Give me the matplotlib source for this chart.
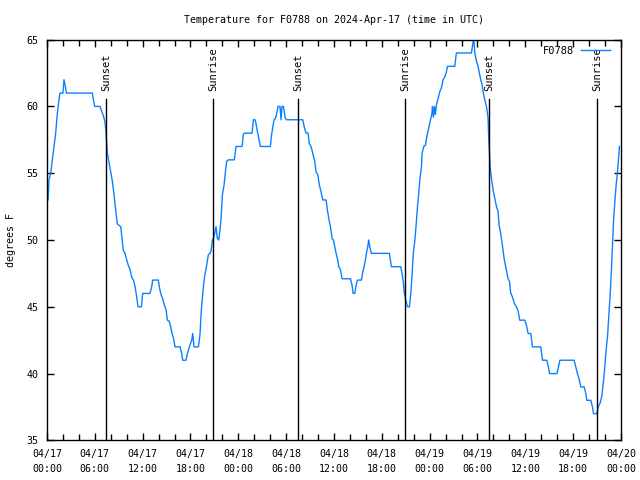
import matplotlib
matplotlib.use("Agg")
from matplotlib import pyplot as plt
import matplotlib.dates as mdates
import pandas as pd

# horas desde 2024-04-17 00:00 UTC y temperatura (F)
horas = [0.13, 0.25, 0.46, 0.67, 0.88, 1.09, 1.30, 1.46, 1.63, 2.0, 2.13, 2.30, 2.43, 5.69, 5.82, 5.98,
         6.65, 6.82, 7.07, 7.28, 7.41, 7.57, 7.78, 7.99, 8.2, 8.41, 8.62, 8.83, 9.25, 9.41, 9.58, 9.79,
         10.0, 10.2, 10.42, 10.63, 10.84, 11.05, 11.26, 11.42, 11.84, 12.0, 12.17, 12.92, 13.13, 13.26,
         13.97, 14.09, 14.26, 14.52, 14.68, 14.93, 15.1, 15.35, 15.52, 15.68, 15.85, 16.06, 16.69, 16.9,
         17.02, 17.44, 17.61, 17.86, 18.15, 18.28, 18.44, 18.99, 19.2, 19.32, 19.45, 19.62, 19.78, 20.03,
         20.24, 20.45, 20.58, 20.74, 20.87, 21.08, 21.2, 21.37, 21.54, 21.71, 21.83, 22.0, 22.21, 22.38,
         22.54, 22.75, 23.5, 23.71, 24.47, 24.63, 24.76, 25.72, 25.89, 26.1, 26.22, 26.43, 26.64, 26.77,
         28.02, 28.15, 28.31, 28.48, 28.65, 28.82, 28.98, 29.23, 29.36, 29.48, 29.65, 29.78, 29.9, 30.07,
         32.08, 32.29, 32.5, 32.75, 32.91, 33.12, 33.33, 33.58, 33.75, 33.96, 34.17, 34.38, 34.59, 35.0,
         35.21, 35.38, 35.55, 35.76, 35.93, 36.1, 36.26, 36.47, 36.6, 36.8, 37.01, 38.06, 38.27, 38.39,
         38.6, 38.77, 38.94, 39.44, 39.61, 39.77, 39.94, 40.07, 40.23, 40.36, 40.48, 40.69, 42.95, 43.08,
         43.2, 44.37, 44.54, 44.71, 44.79, 44.96, 45.21, 45.46, 45.63, 45.8, 45.96, 46.13, 46.3, 46.47,
         46.63, 46.76, 46.97, 47.05, 47.26, 47.47, 47.6, 47.77, 47.93, 48.1, 48.27, 48.35, 48.47, 48.6,
         48.72, 48.85, 49.06, 49.27, 49.48, 49.68, 49.89, 50.1, 50.23, 51.15, 51.35, 53.24, 53.36, 53.49,
         53.57, 53.66, 53.87, 54.07, 54.2, 54.41, 54.58, 54.7, 54.91, 55.12, 55.33, 55.41, 55.5, 55.58,
         55.75, 55.87, 56.0, 56.17, 56.38, 56.59, 56.71, 56.88, 57.0, 57.17, 57.34, 57.51, 57.67, 57.84,
         58.01, 58.17, 58.34, 58.67, 58.88, 59.09, 59.3, 59.93, 60.14, 60.35, 60.69, 60.89, 61.94, 62.15,
         62.69, 62.9, 63.03, 63.95, 64.16, 64.33, 66.12, 66.33, 66.54, 66.75, 66.96, 67.38, 67.59, 67.71,
         68.22, 68.42, 68.55, 68.97, 69.13, 69.38, 69.59, 69.8, 69.97, 70.14, 70.31, 70.47, 70.64, 70.81,
         70.93, 71.06, 71.23, 71.39, 71.56, 71.69, 71.81, 71.95]
temps = [53.0, 54.5, 55.0, 56.0, 57.0, 58.0, 59.5, 60.3, 61.0, 61.0, 62.0, 61.5, 61.0, 61.0, 60.5, 60.0,
         60.0, 59.7, 59.3, 58.8, 58.0, 56.5, 55.8, 55.1, 54.4, 53.4, 52.2, 51.2, 51.0, 50.1, 49.2, 49.0,
         48.5, 48.1, 47.8, 47.2, 47.0, 46.5, 45.7, 45.0, 45.0, 46.0, 46.0, 46.0, 46.5, 47.0,
         47.0, 46.5, 46.0, 45.6, 45.2, 44.8, 44.0, 43.9, 43.5, 43.0, 42.7, 42.0, 42.0, 41.5,
         41.0, 41.0, 41.5, 42.0, 42.5, 43.0, 42.0, 42.0, 43.0, 44.4, 45.4, 46.5, 47.3, 48.1,
         48.9, 49.0, 49.2, 50.0, 50.1, 50.6, 51.0, 50.1, 50.0, 50.8, 51.6, 53.4, 54.1, 55.1,
         55.9, 56.0, 56.0, 57.0, 57.0, 57.9, 58.0, 58.0, 59.0, 59.0, 58.7, 58.0, 57.4, 57.0,
         57.0, 57.8, 58.4, 59.0, 59.1, 59.5, 60.0, 60.0, 59.0, 60.0, 60.0, 59.5, 59.1, 59.0,
         59.0, 58.4, 58.0, 58.0, 57.2, 57.0, 56.5, 55.9, 55.1, 54.9, 54.1, 53.6, 53.0, 53.0,
         52.1, 51.5, 51.0, 50.1, 50.0, 49.5, 49.0, 48.5, 48.0, 47.8, 47.1, 47.1, 46.6, 46.0,
         46.0, 46.6, 47.0, 47.0, 47.6, 48.0, 48.5, 49.0, 49.5, 50.0, 49.5, 49.0, 49.0, 48.5,
         48.0, 48.0, 47.5, 46.8, 46.1, 45.6, 45.0, 45.0, 46.0, 47.5, 49.1, 49.9, 51.1, 52.5,
         53.5, 54.5, 55.5, 56.5, 57.0, 57.1, 57.6, 58.1, 58.5, 59.0, 59.4, 60.0, 59.2, 60.0,
         59.4, 60.1, 60.6, 61.1, 61.4, 62.0, 62.2, 62.6, 63.0, 63.0, 64.0, 64.0, 64.5, 65.0,
         64.8, 64.0, 63.4, 63.0, 62.6, 62.0, 61.6, 61.1, 60.5, 60.0, 59.1, 57.6, 56.6, 55.5,
         54.6, 54.1, 53.6, 53.1, 52.5, 52.1, 51.1, 50.6, 50.1, 49.4, 48.6, 48.1, 47.6, 47.1,
         46.9, 46.0, 45.8, 45.2, 45.0, 44.7, 44.0, 44.0, 43.6, 43.0, 43.0, 42.0, 42.0, 41.0,
         41.0, 40.5, 40.0, 40.0, 40.5, 41.0, 41.0, 40.5, 40.0, 39.6, 39.0, 39.0, 38.5, 38.0,
         38.0, 37.5, 37.0, 37.0, 37.5, 37.8, 38.3, 39.4, 40.5, 41.8, 42.8, 44.3, 45.9, 47.9,
         49.5, 51.4, 52.9, 54.1, 55.1, 56.1, 57.0]
horas_atardecer = [7.44, 31.53, 55.5]
horas_amanecer = [20.87, 44.88, 68.97]

inicio = pd.Timestamp("2024-04-17 00:00")
t = inicio + pd.to_timedelta(horas[:len(temps)], unit="h")
plt.rcParams['font.family'] = "DejaVu Sans Mono"
plt.rcParams['font.size'] = 7.2

fig = plt.figure(figsize=(6.4, 4.8), dpi=100)
ax = fig.add_axes([47 / 640, 39.6 / 480, 574 / 640, 400.8 / 480])
ax.plot(t, temps, color='#0a80ff', linewidth=1, label='F0788')

for h in horas_atardecer:
    x = inicio + pd.Timedelta(hours=h)
    ax.axvline(x, ymin=0, ymax=0.851, color='black', linewidth=1)
    ax.text(x, 0.873, 'Sunset', rotation=90, ha='center', va='bottom', fontsize=7.5,
            transform=ax.get_xaxis_transform())
for h in horas_amanecer:
    x = inicio + pd.Timedelta(hours=h)
    ax.axvline(x, ymin=0, ymax=0.851, color='black', linewidth=1)
    ax.text(x, 0.873, 'Sunrise', rotation=90, ha='center', va='bottom', fontsize=7.5,
            transform=ax.get_xaxis_transform())

ax.set_xlim(inicio, inicio + pd.Timedelta(hours=72))
ax.set_ylim(35, 65)
ax.set_yticks([35, 40, 45, 50, 55, 60, 65])
ax.xaxis.set_major_locator(mdates.HourLocator(byhour=[0, 6, 12, 18]))
ax.xaxis.set_minor_locator(mdates.HourLocator(byhour=range(0, 24, 2)))
ax.xaxis.set_major_formatter(mdates.DateFormatter('%m/%d\n%H:%M'))
ax.tick_params(which='both', direction='in', top=True, right=True)
ax.tick_params(which='major', length=5, width=1)
ax.tick_params(which='minor', length=4, width=1)
ax.tick_params(axis='x', pad=6)
ax.tick_params(axis='y', pad=6)
for lab in ax.get_xticklabels():
    lab.set_linespacing(1.7)
for s in ax.spines.values():
    s.set_linewidth(1)

ax.set_ylabel('degrees F', labelpad=8)
ax.set_title('Temperature for F0788 on 2024-Apr-17 (time in UTC)', fontsize=7.2, pad=12)
leg = ax.legend(loc='upper right', bbox_to_anchor=(1.0, 1.013), frameon=False,
                handlelength=2.7, borderaxespad=0.7, markerfirst=False,
                handletextpad=0.7, fontsize=7.5)

fig.savefig('out.png', dpi=100)
